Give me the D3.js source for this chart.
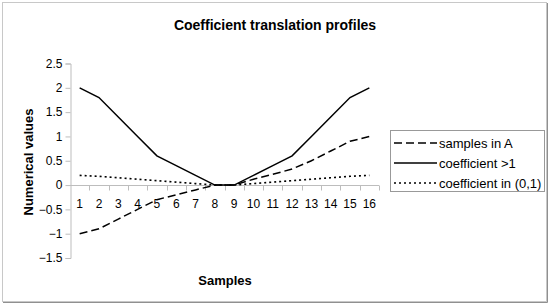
<!DOCTYPE html>
<html>
<head>
<meta charset="utf-8">
<script src="https://cdn.jsdelivr.net/npm/d3@7"></script>
<style>
  body { margin: 0; background: #fff; }
  svg { font-family: "Liberation Sans", Arial, sans-serif; }
</style>
</head>
<body>
<div id="chart"></div>
<script>
// data
var samples = [1, 2, 3, 4, 5, 6, 7, 8, 9, 10, 11, 12, 13, 14, 15, 16]
var samplesInA = [-1, -0.9, -0.7, -0.5, -0.3, -0.2, -0.1, 0, 0, 0.12, 0.22, 0.33, 0.5, 0.7, 0.9, 1]
var coefGt1 = [2, 1.8, 1.4, 1, 0.6, 0.4, 0.2, 0, 0, 0.2, 0.4, 0.6, 1, 1.4, 1.8, 2]
var coefIn01 = [0.2, 0.18, 0.15, 0.12, 0.09, 0.06, 0.03, 0, 0, 0.03, 0.06, 0.09, 0.12, 0.15, 0.18, 0.2]
var yTicks = [-1.5, -1, -0.5, 0, 0.5, 1, 1.5, 2, 2.5]

var seriesNames = ["samples in A", "coefficient >1", "coefficient in (0,1)"]
var seriesDash = ["8,4", null, "2,3"]
var seriesValues = [samplesInA, coefGt1, coefIn01]

var width = 550
var height = 305

var svg = d3.select("#chart")
  .append("svg")
  .attr("width", width)
  .attr("height", height)

// outer frame
svg.append("rect")
  .attr("x", 2.5).attr("y", 2.5)
  .attr("width", 544).attr("height", 299)
  .attr("fill", "white")
  .attr("stroke", "#c8c8c8")
svg.append("path")
  .attr("d", "M547.5,3 V302.5 H3")
  .attr("fill", "none")
  .attr("stroke", "#909090")

var x = d3.scaleBand()
  .domain(samples)
  .range([70, 379])

var y = d3.scaleLinear()
  .domain([-1.5, 2.5])
  .range([258, 63.5])

// y axis
var yAxis = svg.append("g")
  .attr("transform", "translate(70.5,0)")
  .call(d3.axisLeft(y).tickValues(yTicks).tickSize(5).tickPadding(3).tickFormat(d3.format("")))
yAxis.select(".domain").attr("stroke", "#bdbdbd")
yAxis.selectAll(".tick line").attr("stroke", "#bdbdbd")
yAxis.selectAll("text").attr("font-size", 12).attr("fill", "#000")
  .attr("font-family", "Liberation Sans, Arial, sans-serif")

// x axis at zero line, ticks between categories
var xg = svg.append("g")
  .attr("transform", "translate(0," + (Math.round(y(0)) + 0.5) + ")")
xg.append("line")
  .attr("x1", 70).attr("x2", 379)
  .attr("stroke", "#bdbdbd")
xg.selectAll(".tk")
  .data(samples)
  .enter()
  .append("line")
  .attr("x1", function (d) { return Math.round(x(d) + x.bandwidth()) + 0.5 })
  .attr("x2", function (d) { return Math.round(x(d) + x.bandwidth()) + 0.5 })
  .attr("y1", 0).attr("y2", 5)
  .attr("stroke", "#bdbdbd")
xg.selectAll(".lbl")
  .data(samples)
  .enter()
  .append("text")
  .attr("x", function (d) { return x(d) + x.bandwidth() / 2 })
  .attr("y", 22)
  .attr("text-anchor", "middle")
  .attr("font-size", 12)
  .text(function (d) { return d })

// lines
var line = d3.line()
  .x(function (d, i) { return x(samples[i]) + x.bandwidth() / 2 })
  .y(function (d) { return y(d) })

seriesValues.forEach(function (vals, k) {
  svg.append("path")
    .datum(vals)
    .attr("d", line)
    .attr("fill", "none")
    .attr("stroke", "#000")
    .attr("stroke-width", k == 2 ? 1.6 : 1.5)
    .attr("stroke-dasharray", seriesDash[k])
})

// title and axis labels
svg.append("text")
  .attr("x", 275).attr("y", 30)
  .attr("text-anchor", "middle")
  .attr("font-size", 14).attr("font-weight", "bold")
  .text("Coefficient translation profiles")

svg.append("text")
  .attr("transform", "translate(33,162) rotate(-90)")
  .attr("text-anchor", "middle")
  .attr("font-size", 13).attr("font-weight", "bold")
  .text("Numerical values")

svg.append("text")
  .attr("x", 225).attr("y", 285)
  .attr("text-anchor", "middle")
  .attr("font-size", 13).attr("font-weight", "bold")
  .text("Samples")

// legend
var legend = svg.append("g")
legend.append("rect")
  .attr("x", 390.5).attr("y", 130.5)
  .attr("width", 154).attr("height", 61)
  .attr("fill", "white")
  .attr("stroke", "#999")
seriesNames.forEach(function (name, k) {
  var ly = 143 + k * 20
  legend.append("line")
    .attr("x1", 394).attr("x2", 437)
    .attr("y1", ly).attr("y2", ly)
    .attr("stroke", "#000")
    .attr("stroke-width", 1.5)
    .attr("stroke-dasharray", seriesDash[k])
  legend.append("text")
    .attr("x", 439).attr("y", ly + 4.5)
    .attr("font-size", 13)
    .text(name)
})
</script>
</body>
</html>
